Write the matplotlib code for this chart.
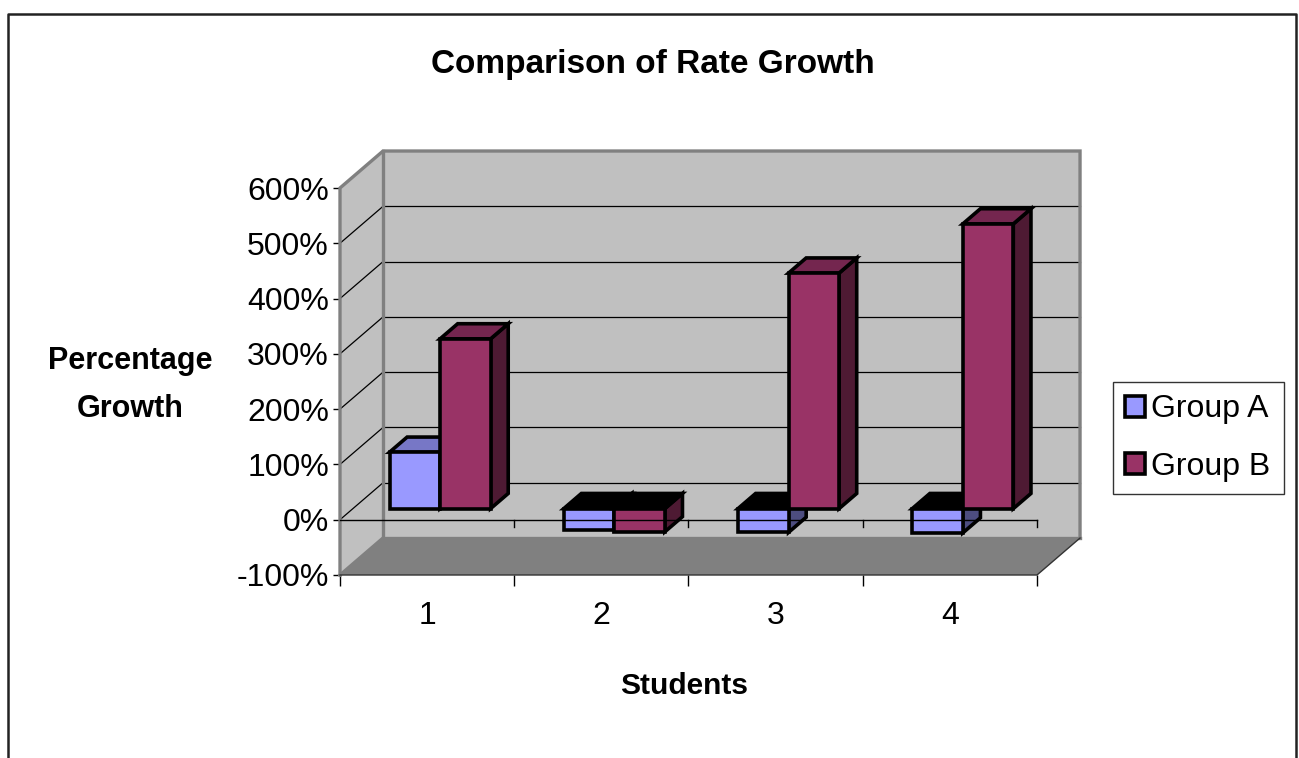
import matplotlib
matplotlib.use("Agg")
import matplotlib.pyplot as plt
from matplotlib.patches import Polygon, Patch
from matplotlib.lines import Line2D
import numpy as np

plt.rcParams['font.family'] = ['Liberation Sans', 'DejaVu Sans']

# ---- data ----
categories = ["1", "2", "3", "4"]
series_names = ["Group A", "Group B"]
group_a = [1.02, -0.38, -0.43, -0.44]   # fraction (1.0 = 100%)
group_b = [3.07, -0.42, 4.26, 5.15]
y_ticks = [-1, 0, 1, 2, 3, 4, 5, 6]
y_tick_labels = ["-100%", "0%", "100%", "200%", "300%", "400%", "500%", "600%"]

# ---- style ----
front_cols = ["#9999FF", "#993366"]
top_cols = ["#7777C6", "#74264F"]
side_cols = ["#4D4D80", "#4E1A33"]
wall_col = "#C0C0C0"
floor_col = "#808080"
border_col = "#808080"

W, H = 1299, 758
fig = plt.figure(figsize=(W / 100, H / 100), dpi=100)
fig.patch.set_facecolor("white")

# axes = front plane of the 3-D box
L, R, T, B = 340, 1037, 188, 575
ax = fig.add_axes([L / W, 1 - B / H, (R - L) / W, (B - T) / H])
ax.set_xlim(0.5, 4.5)
ax.set_ylim(-1, 6)
ax.patch.set_visible(False)
for s in ax.spines.values():
    s.set_visible(False)

DX = 0.247   # depth offset in category units
DY = 0.669   # depth offset in value units
ymin, ymax = -1, 6
n = len(categories)
x0, x1 = 0.5, n + 0.5

def poly(pts, fc, ec, lw, zorder):
    p = Polygon(pts, closed=True, facecolor=fc, edgecolor=ec, linewidth=lw,
                zorder=zorder, clip_on=False, joinstyle="miter")
    ax.add_patch(p)

# back wall
poly([(x0 + DX, ymin + DY), (x1 + DX, ymin + DY), (x1 + DX, ymax + DY), (x0 + DX, ymax + DY)],
     wall_col, "none", 0, 1)
# side wall
poly([(x0, ymin), (x0 + DX, ymin + DY), (x0 + DX, ymax + DY), (x0, ymax)], wall_col, "none", 0, 1)
# floor
poly([(x0, ymin), (x1, ymin), (x1 + DX, ymin + DY), (x0 + DX, ymin + DY)], floor_col, "none", 0, 1)

# gridlines on back wall and diagonals on side wall
for v in y_ticks[1:-1]:
    ax.plot([x0 + DX, x1 + DX], [v + DY, v + DY], color="black", lw=0.9, zorder=2, clip_on=False)
    ax.plot([x0, x0 + DX], [v, v + DY], color="black", lw=0.9, zorder=2, clip_on=False)

# wall borders (gray, thick)
bw = 2.4
ax.plot([x0, x0, x0 + DX, x1 + DX, x1 + DX], [ymin, ymax, ymax + DY, ymax + DY, ymin + DY],
        color=border_col, lw=bw, zorder=3, clip_on=False, solid_joinstyle="miter")
ax.plot([x0 + DX, x0 + DX, x1 + DX], [ymax + DY, ymin + DY, ymin + DY],
        color=border_col, lw=bw, zorder=3, clip_on=False, solid_joinstyle="miter")
ax.plot([x0, x0 + DX], [ymin, ymin + DY], color=border_col, lw=bw, zorder=3, clip_on=False)
# floor front edge and right edge
ax.plot([x0, x1, x1 + DX], [ymin, ymin, ymin + DY], color="#333333", lw=1.0, zorder=3, clip_on=False)

# bars
gap, bw_bar = 0.21, 0.29
f0, f1 = 0.30, 0.71
ddx, ddy = (f1 - f0) * DX, (f1 - f0) * DY
elw = 2.6
zb = 10
for i in range(n):
    for s, vals in enumerate([group_a, group_b]):
        v = vals[i]
        xl = (i + 1) - 0.5 + gap + s * bw_bar + f0 * DX
        base = f0 * DY
        lo, hi = base + min(v, 0), base + max(v, 0)
        poly([(xl + bw_bar, lo), (xl + bw_bar, hi), (xl + bw_bar + ddx, hi + ddy), (xl + bw_bar + ddx, lo + ddy)],
             side_cols[s], "black", elw, zb)
        tc = top_cols[s] if v >= 0 else "black"
        poly([(xl, hi), (xl + bw_bar, hi), (xl + bw_bar + ddx, hi + ddy), (xl + ddx, hi + ddy)],
             tc, "black", elw, zb + 1)
        ax.bar(xl, v, width=bw_bar, bottom=base, align="edge", color=front_cols[s],
               edgecolor="black", linewidth=elw, zorder=zb + 2, clip_on=False)
        zb += 3

# category axis at 0 on the front plane
ax.plot([x0, x1], [0, 0], color="black", lw=1.0, zorder=60, clip_on=False)
tick_h = 0.13
for b in np.arange(1.5, n + 0.6, 1.0):
    ax.plot([b, b], [0, -tick_h], color="black", lw=1.0, zorder=60, clip_on=False)

# axis ticks and labels
ax.set_yticks(y_ticks)
ax.set_yticklabels(y_tick_labels, fontsize=23)
ax.tick_params(axis="y", direction="out", length=5, width=1, pad=3, colors="black")
ax.set_xticks(range(1, n + 1))
ax.set_xticklabels(categories, fontsize=23)
ax.set_xticks(np.arange(0.5, n + 0.6, 1.0), minor=True)
ax.tick_params(axis="x", which="major", length=0, pad=19)
ax.tick_params(axis="x", which="minor", length=8, width=1, direction="out")

ax.set_ylabel("Percentage\nGrowth", rotation=0, fontsize=22, fontweight="bold",
              ha="center", va="center", linespacing=1.78)
ax.yaxis.set_label_coords((130 - L) / (R - L), (B - 385) / (B - T))
ax.set_xlabel("Students", fontsize=21.5, fontweight="bold", ha="center", va="center")
ax.xaxis.set_label_coords((684 - L) / (R - L), (B - 686) / (B - T))

fig.text(653 / W, 1 - 65 / H, "Comparison of Rate Growth", fontsize=24, fontweight="bold",
         ha="center", va="center")

# legend
handles = [Patch(facecolor=front_cols[k], edgecolor="black", linewidth=2.6, label=series_names[k])
           for k in range(2)]
leg = fig.legend(handles=handles, loc="center", bbox_to_anchor=(1198 / W, 1 - 438 / H),
                 fontsize=23, frameon=True, fancybox=False, shadow=False,
                 handlelength=0.62, handleheight=0.62, handletextpad=0.2,
                 labelspacing=0.85, borderpad=0.4, borderaxespad=0)
leg.get_frame().set_edgecolor("black")
leg.get_frame().set_linewidth(1.0)

# outer chart border (top, left, right)
fig.add_artist(Line2D([8 / W, 8 / W, 1296 / W, 1296 / W], [0, 1 - 14 / H, 1 - 14 / H, 0],
                      transform=fig.transFigure, color="#222222", lw=1.8))

fig.savefig("out.png", dpi=100)
